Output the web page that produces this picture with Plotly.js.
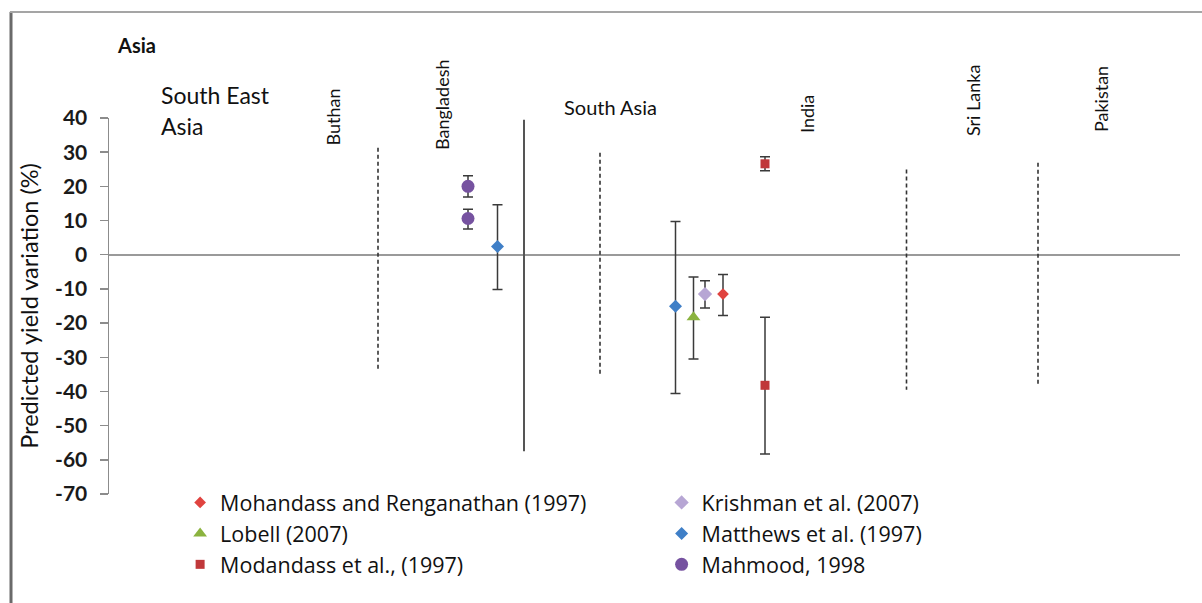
<!DOCTYPE html>
<html>
<head>
<meta charset="utf-8">
<script src="https://cdn.plot.ly/plotly-3.0.1.min.js"></script>
<style>html,body{margin:0;padding:0;background:#fff;}#chart{width:1202px;height:603px;}</style>
</head>
<body>
<div id="chart"></div>
<script>
// ---- Data (x is a position along the unlabelled horizontal layout of the figure) ----
var seriesNames = [
  "Mohandass and Renganathan (1997)",
  "Krishman et al. (2007)",
  "Lobell (2007)",
  "Matthews et al. (1997)",
  "Modandass et al., (1997)",
  "Mahmood, 1998"
];
// Mohandass and Renganathan (1997) - India
var mohX = [61.4];
var mohY = [-11.5];
var mohErrPlus = [5.7];
var mohErrMinus = [6.3];
// Krishman et al. (2007) - India
var kriX = [59.6];
var kriY = [-11.5];
var kriErrPlus = [3.9];
var kriErrMinus = [4.1];
// Lobell (2007) - India
var lobX = [58.45];
var lobY = [-18.3];
var lobErrPlus = [11.8];
var lobErrMinus = [12.2];
// Matthews et al. (1997) - Bangladesh, India
var matX = [38.85, 56.65];
var matY = [2.4, -15.1];
var matErrPlus = [12.2, 24.8];
var matErrMinus = [12.6, 25.5];
// Modandass et al., (1997) - India
var modX = [65.6, 65.6];
var modY = [26.6, -38.2];
var modErrPlus = [2.1, 19.9];
var modErrMinus = [2.0, 20.1];
// Mahmood, 1998 - Bangladesh
var mahX = [35.9, 35.9];
var mahY = [20.0, 10.6];
var mahErrPlus = [3.1, 2.7];
var mahErrMinus = [3.1, 3.1];

// Region / country labels
var countryNames = ["Buthan", "Bangladesh", "India", "Sri Lanka", "Pakistan"];
var countryLabelX = [22.4, 33.3, 69.8, 86.4, 99.2];
var countryLabelY = [1.0013, 1.0346, 1.0106, 1.0452, 1.0505]; // paper units

// Divider lines: x, top, bottom
var dashedX = [26.9, 49.1, 79.75, 92.9];
var dashedTop = [31.3, 29.8, 24.9, 26.9];
var dashedBottom = [-33.6, -35.1, -39.5, -38.6];
var solidX = [41.5];
var solidTop = [39.5];
var solidBottom = [-57.5];

var yTicks = [40, 30, 20, 10, 0, -10, -20, -30, -40, -50, -60, -70];

var FONT = "Lato, 'Open Sans', sans-serif";
var LEGEND_FONT = "'Open Sans', Lato, sans-serif";

function errBar(plus, minus) {
  return {type: "data", symmetric: false, array: plus, arrayminus: minus,
          color: "#3a3a3a", thickness: 1.5, width: 5};
}

var traces = [
  {name: seriesNames[0], x: mohX, y: mohY, type: "scatter", mode: "markers",
   marker: {symbol: "diamond", size: 9, color: "#e0433f"}, error_y: errBar(mohErrPlus, mohErrMinus)},
  {name: seriesNames[1], x: kriX, y: kriY, type: "scatter", mode: "markers",
   marker: {symbol: "diamond", size: 11, color: "#b7a6d4"}, error_y: errBar(kriErrPlus, kriErrMinus)},
  {name: seriesNames[2], x: lobX, y: lobY, type: "scatter", mode: "markers",
   marker: {symbol: "triangle-up", size: 12, color: "#8bb33f"}, error_y: errBar(lobErrPlus, lobErrMinus)},
  {name: seriesNames[3], x: matX, y: matY, type: "scatter", mode: "markers",
   marker: {symbol: "diamond", size: 10, color: "#3f7fc7"}, error_y: errBar(matErrPlus, matErrMinus)},
  {name: seriesNames[4], x: modX, y: modY, type: "scatter", mode: "markers",
   marker: {symbol: "square", size: 9, color: "#c0383a"}, error_y: errBar(modErrPlus, modErrMinus)},
  {name: seriesNames[5], x: mahX, y: mahY, type: "scatter", mode: "markers",
   marker: {symbol: "circle", size: 13, color: "#7652a0"}, error_y: errBar(mahErrPlus, mahErrMinus)}
];

var shapes = [];
dashedX.forEach(function (x, i) {
  shapes.push({type: "line", xref: "x", yref: "y", x0: x, x1: x, y0: dashedTop[i], y1: dashedBottom[i],
               line: {color: "#333", width: 1.6, dash: "4px,3px"}});
});
solidX.forEach(function (x, i) {
  shapes.push({type: "line", xref: "x", yref: "y", x0: x, x1: x, y0: solidTop[i], y1: solidBottom[i],
               line: {color: "#555", width: 2}});
});
// chart frame (left and top edge)
shapes.push({type: "line", xref: "paper", yref: "paper", x0: -0.0915, x1: -0.0915, y0: 1.282, y1: -0.5,
             line: {color: "#6a6a6a", width: 3}});
shapes.push({type: "line", xref: "paper", yref: "paper", x0: -0.0925, x1: 1.05, y0: 1.282, y1: 1.282,
             line: {color: "#a5a5a5", width: 2}});

var annotations = [
  {text: "<b>Asia</b>", xref: "paper", yref: "paper", x: 0.0056, y: 1.194, xanchor: "left", yanchor: "middle",
   showarrow: false, font: {family: FONT, size: 20, color: "#111"}},
  {text: "South East", xref: "paper", yref: "paper", x: 0.047, y: 1.0612, xanchor: "left", yanchor: "middle",
   showarrow: false, font: {family: FONT, size: 23, color: "#111"}},
  {text: "Asia", xref: "paper", yref: "paper", x: 0.047, y: 0.9787, xanchor: "left", yanchor: "middle",
   showarrow: false, font: {family: FONT, size: 23, color: "#111"}},
  {text: "South Asia", xref: "paper", yref: "paper", x: 0.4687, y: 1.029, xanchor: "center", yanchor: "middle",
   showarrow: false, font: {family: FONT, size: 20, color: "#111"}}
];
countryNames.forEach(function (c, i) {
  annotations.push({text: c, xref: "x", yref: "paper", x: countryLabelX[i], y: countryLabelY[i],
    xanchor: "center", yanchor: "middle", textangle: -90, showarrow: false,
    font: {family: FONT, size: 18, color: "#111"}});
});

var layout = {
  width: 1202, height: 603,
  margin: {l: 109, r: 22, t: 118, b: 109},
  paper_bgcolor: "#fff", plot_bgcolor: "#fff",
  showlegend: true,
  legend: {orientation: "h", x: 0.0664, xanchor: "left", xref: "paper",
           y: 0.032, yanchor: "top", yref: "paper",
           entrywidth: 436.5, entrywidthmode: "pixels", traceorder: "normal",
           font: {family: LEGEND_FONT, size: 21.5, color: "#111"}, bgcolor: "rgba(0,0,0,0)",
           itemclick: false, itemdoubleclick: false},
  xaxis: {range: [0, 107.1], visible: false, fixedrange: true},
  yaxis: {range: [-70, 40], tickvals: yTicks, ticktext: yTicks.map(String),
          showgrid: false, showline: true, linecolor: "#8c8c8c", linewidth: 1.5,
          ticks: "outside", ticklen: 8, tickwidth: 1.5, tickcolor: "#8c8c8c",
          zeroline: true, zerolinecolor: "#9a9a9a", zerolinewidth: 2,
          ticklabelstandoff: 8,
          tickfont: {family: FONT, size: 21, color: "#1a1a1a", weight: "bold"},
          title: {text: "Predicted yield variation (%)", standoff: 10,
                  font: {family: FONT, size: 23.5, color: "#111"}},
          fixedrange: true},
  shapes: shapes,
  annotations: annotations
};

Plotly.newPlot("chart", traces, layout, {displayModeBar: false, staticPlot: true});
</script>
</body>
</html>
